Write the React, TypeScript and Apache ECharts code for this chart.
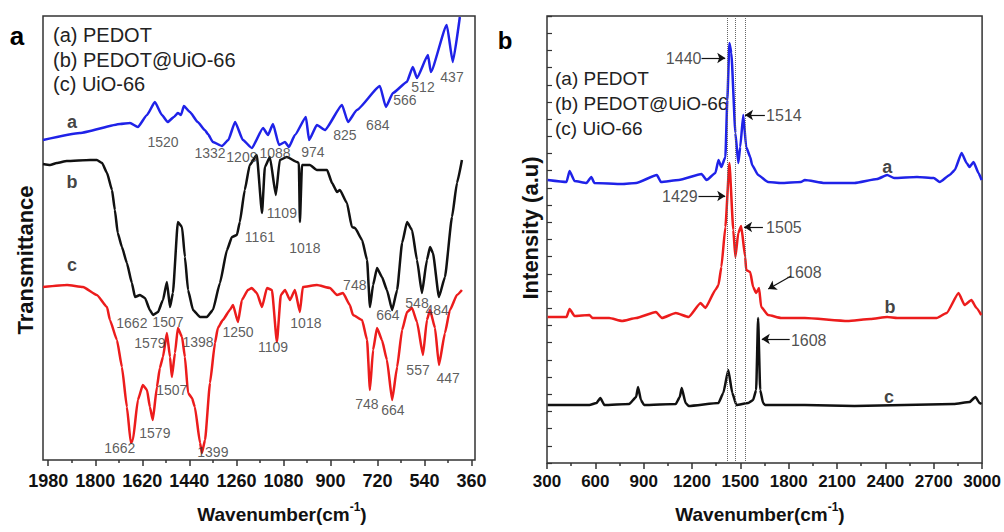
import React, { useEffect, useRef } from "react";
import * as echarts from "echarts";

const FONT = "Liberation Sans, Arial, Helvetica, sans-serif";

// ---------- Panel a : FT-IR (wavenumber cm-1, transmittance a.u. with offsets) ----------
const irPEDOT: [number, number][] = [
  [2000, 320], [1859, 327], [1705, 336], [1667, 337], [1637, 333], [1602, 345], [1572, 358],
  [1545, 345], [1523, 338], [1499, 343], [1484, 347], [1472, 345], [1461, 354], [1438, 348],
  [1408, 338], [1381, 330], [1369, 326], [1350, 318], [1315, 314], [1291, 320], [1265, 338],
  [1235, 320], [1201, 312], [1158, 332], [1139, 325], [1120, 336], [1097, 315], [1074, 318],
  [1059, 313], [1036, 325], [994, 343], [982, 320], [952, 335], [921, 330], [856, 355],
  [833, 338], [799, 350], [711, 374], [688, 353], [661, 367], [608, 378], [585, 393],
  [569, 382], [527, 405], [516, 388], [455, 435], [432, 398], [405, 443],
];

const irComposite: [number, number][] = [
  [2000, 296], [1973, 295], [1947, 297], [1909, 299], [1820, 300], [1794, 300], [1774, 297],
  [1755, 287], [1736, 270], [1725, 250], [1714, 227], [1698, 213], [1679, 197], [1660, 177],
  [1648, 163], [1629, 165], [1610, 162], [1591, 150], [1579, 145], [1560, 148], [1541, 160],
  [1526, 178], [1514, 153], [1503, 167], [1484, 238], [1468, 233], [1457, 203], [1445, 170],
  [1426, 150], [1399, 143], [1373, 143], [1350, 150], [1323, 177], [1296, 210], [1277, 223],
  [1258, 225], [1247, 238], [1228, 270], [1209, 295], [1182, 305], [1162, 247], [1151, 293],
  [1132, 303], [1109, 265], [1094, 300], [1067, 303], [1028, 298], [1021, 297], [1017, 238],
  [1009, 295], [979, 295], [952, 290], [913, 290], [894, 277], [875, 268], [864, 270],
  [837, 257], [818, 233], [806, 232], [779, 220], [760, 200], [749, 153], [737, 175],
  [722, 192], [703, 183], [684, 170], [664, 150], [645, 170], [626, 217], [607, 238],
  [588, 230], [569, 200], [550, 167], [531, 200], [519, 213], [508, 207], [485, 163],
  [462, 183], [435, 243], [416, 277], [397, 300],
];

const irUiO: [number, number][] = [
  [2000, 173], [1908, 175], [1847, 173], [1794, 165], [1755, 153], [1744, 140], [1717, 120],
  [1698, 93], [1679, 53], [1664, 17], [1656, 20], [1637, 60], [1618, 75], [1602, 70],
  [1591, 53], [1580, 40], [1564, 73], [1553, 92], [1541, 103], [1526, 127], [1514, 103],
  [1507, 83], [1495, 107], [1484, 132], [1468, 123], [1457, 103], [1445, 67], [1430, 62],
  [1419, 53], [1399, 17], [1392, 7], [1380, 20], [1361, 77], [1342, 117], [1331, 132],
  [1312, 140], [1285, 150], [1273, 155], [1254, 138], [1239, 160], [1216, 170], [1201, 172],
  [1182, 167], [1162, 153], [1143, 172], [1124, 170], [1105, 118], [1090, 165], [1074, 170],
  [1055, 160], [1036, 170], [1017, 148], [1006, 173], [952, 175], [902, 172], [875, 165],
  [852, 167], [826, 155], [814, 145], [779, 140], [760, 120], [749, 70], [737, 110],
  [722, 132], [703, 120], [684, 100], [664, 60], [645, 93], [626, 130], [607, 148],
  [588, 152], [569, 138], [546, 105], [531, 140], [519, 150], [500, 132], [485, 95],
  [462, 127], [443, 150], [416, 165], [397, 170],
];

const irMajorTicks = [1980, 1800, 1620, 1440, 1260, 1080, 900, 720, 540, 360];
const irMinorTicks = [1890, 1710, 1530, 1350, 1170, 990, 810, 630, 450];

// peak annotations for panel a: [wavenumber, level, text]
const irPeakLabels: [number, number, string][] = [
  [1541, 318, "1520"], [1361, 307, "1332"], [1239, 303, "1209"], [1112, 307, "1088"],
  [967, 308, "974"], [845, 325, "825"], [719, 335, "684"], [615, 360, "566"],
  [546, 373, "512"], [435, 383, "437"],
  [1170, 223, "1161"], [1086, 247, "1109"], [998, 212, "1018"], [807, 175, "748"],
  [680, 145, "664"], [569, 157, "548"], [492, 150, "484"], [1660, 137, "1662"],
  [1522, 138, "1507"], [1591, 117, "1579"], [1407, 118, "1398"],
  [1254, 128, "1250"], [1120, 113, "1109"], [994, 137, "1018"], [1507, 70, "1507"],
  [1572, 27, "1579"], [1706, 12, "1662"], [1350, 8, "1399"], [761, 56, "748"],
  [661, 50, "664"], [565, 90, "557"], [450, 82, "447"],
];
const irCurveTags: [number, number, string][] = [
  [1889, 338, "a"], [1889, 278, "b"], [1889, 195, "c"],
];

// ---------- Panel b : Raman (wavenumber cm-1, intensity a.u. with offsets) ----------
const ramanPEDOT: [number, number][] = [
  [304, 283], [421, 281], [440, 292], [471, 282], [545, 280], [575, 286], [594, 280],
  [766, 279], [853, 280], [982, 288], [1007, 281], [1118, 283], [1259, 289], [1290, 283],
  [1345, 290], [1364, 303], [1382, 296], [1407, 306], [1419, 363], [1432, 420], [1444, 410],
  [1469, 330], [1487, 300], [1499, 316], [1518, 348], [1536, 316], [1561, 306], [1573, 298],
  [1610, 288], [1672, 281], [1752, 280], [1875, 281], [1900, 283], [2023, 280], [2208, 280],
  [2349, 284], [2411, 288], [2454, 285], [2596, 286], [2700, 285], [2737, 281], [2799, 288],
  [2830, 293], [2873, 310], [2904, 300], [2922, 296], [2947, 301], [2978, 290], [2997, 283],
];

const ramanComposite: [number, number][] = [
  [304, 146], [421, 146], [440, 154], [471, 147], [563, 148], [582, 145], [686, 145],
  [766, 142], [853, 145], [976, 151], [1013, 145], [1099, 150], [1179, 146], [1253, 160],
  [1283, 155], [1345, 173], [1364, 178], [1382, 196], [1407, 236], [1432, 300], [1456, 233],
  [1469, 206], [1487, 230], [1505, 237], [1530, 206], [1536, 193], [1561, 191], [1579, 176],
  [1598, 170], [1616, 175], [1629, 156], [1672, 148], [1752, 145], [1900, 145], [2165, 142],
  [2307, 144], [2411, 146], [2473, 145], [2718, 145], [2780, 150], [2854, 170], [2891, 158],
  [2934, 163], [2965, 155], [2995, 148],
];

const ramanUiO: [number, number][] = [
  [304, 58], [563, 58], [607, 60], [631, 65], [656, 58], [810, 59], [853, 66], [865, 76],
  [883, 63], [902, 58], [1099, 59], [1124, 66], [1136, 75], [1160, 60], [1179, 57],
  [1364, 60], [1394, 70], [1425, 93], [1450, 70], [1475, 58], [1549, 60], [1579, 63],
  [1598, 73], [1610, 145], [1623, 73], [1641, 60], [1653, 58], [1900, 58], [2208, 57],
  [2516, 58], [2824, 59], [2922, 61], [2959, 66], [2984, 60], [2997, 59],
];

const ramanGuides = [1420, 1471, 1530];

// [text position wn, level, text, arrow start wn, level, arrow end wn, level]
const ramanArrows: [number, number, string, number, number, number, number][] = [
  [1148, 405, "1440", 1259, 405, 1406, 405],
  [1770, 348, "1514", 1652, 348, 1529, 348],
  [1124, 267, "1429", 1240, 267, 1406, 267],
  [1770, 236, "1505", 1640, 236, 1523, 236],
  [1894, 191, "1608", 1815, 187, 1673, 174],
  [1924, 123, "1608", 1806, 124, 1633, 124],
];
const ramanCurveTags: [number, number, string][] = [
  [2411, 296, "a"], [2429, 156, "b"], [2423, 66, "c"],
];

const legendLines = ["(a) PEDOT", "(b) PEDOT@UiO-66", "(c) UiO-66"];

const BLUE = "#1f22e8";
const RED = "#ec1c1c";
const BLACK = "#111111";

export default function App() {
  const ref = useRef<HTMLDivElement>(null);

  useEffect(() => {
    if (!ref.current) return;
    const chart = echarts.init(ref.current, undefined, { renderer: "svg" });

    const lineSeries = (data: [number, number][], color: string, xi: number, yi: number, name: string) => ({
      type: "line",
      name,
      data,
      xAxisIndex: xi,
      yAxisIndex: yi,
      showSymbol: false,
      symbol: "none",
      smooth: 0.15,
      smoothMonotone: "x",
      lineStyle: { color, width: 2.5 },
      itemStyle: { color },
      z: 3,
      silent: true,
    });

    const labelSeries = (items: [number, number, string][], xi: number, yi: number, size: number, bold: boolean, color: string) => ({
      type: "scatter",
      xAxisIndex: xi,
      yAxisIndex: yi,
      symbolSize: 1,
      itemStyle: { color: "rgba(0,0,0,0)" },
      silent: true,
      z: 5,
      data: items.map((d) => ({ value: [d[0], d[1]], name: d[2] })),
      label: {
        show: true,
        position: "inside",
        formatter: "{b}",
        fontFamily: FONT,
        fontSize: size,
        fontWeight: bold ? "bold" : "normal",
        color,
      },
    });

    const tickLabel = (size: number) => ({
      fontFamily: FONT,
      fontSize: size,
      fontWeight: "bold",
      color: "#111",
    });

    const titleRich = {
      t: { fontFamily: FONT, fontSize: 19, fontWeight: "bold", fill: "#111", verticalAlign: "middle", lineHeight: 26 },
      s: { fontFamily: FONT, fontSize: 12, fontWeight: "bold", fill: "#111", verticalAlign: "top", lineHeight: 26 },
    };

    const graphics: any[] = [
      { type: "text", x: 17, y: 36, style: { text: "a", font: `bold 26px ${FONT}`, fill: "#000", align: "center", verticalAlign: "middle" } },
      { type: "text", x: 505, y: 40, style: { text: "b", font: `bold 24px ${FONT}`, fill: "#000", align: "center", verticalAlign: "middle" } },
      { type: "text", x: 25, y: 260, rotation: Math.PI / 2, style: { text: "Transmittance", font: `bold 22px ${FONT}`, fill: "#111", align: "center", verticalAlign: "middle" } },
      { type: "text", x: 530, y: 228, rotation: Math.PI / 2, style: { text: "Intensity (a.u)", font: `bold 22px ${FONT}`, fill: "#111", align: "center", verticalAlign: "middle" } },
      { type: "text", x: 282, y: 514, style: { text: "{t|Wavenumber(cm}{s|-1}{t|)}", rich: titleRich, align: "center", verticalAlign: "middle" } },
      { type: "text", x: 760, y: 514, style: { text: "{t|Wavenumber(cm}{s|-1}{t|)}", rich: titleRich, align: "center", verticalAlign: "middle" } },
    ];
    legendLines.forEach((t, i) => {
      graphics.push({ type: "text", x: 53, y: 35 + i * 24.5, style: { text: t, font: `20px ${FONT}`, fill: "#222", align: "left", verticalAlign: "middle" } });
      graphics.push({ type: "text", x: 555, y: 78 + i * 25, style: { text: t, font: `19px ${FONT}`, fill: "#222", align: "left", verticalAlign: "middle" } });
    });

    const option: any = {
      animation: false,
      backgroundColor: "#ffffff",
      grid: [
        { left: 43, top: 16, width: 432, height: 444, show: true, borderColor: "#333", borderWidth: 1.5, backgroundColor: "transparent" },
        { left: 547, top: 16, width: 439, height: 447, show: true, borderColor: "#333", borderWidth: 1.5, backgroundColor: "transparent" },
      ],
      xAxis: [
        {
          type: "value", gridIndex: 0, position: "bottom", inverse: true, min: 347, max: 2000,
          splitLine: { show: false }, axisLine: { show: false },
          axisTick: { show: true, customValues: irMajorTicks, length: 6, lineStyle: { color: "#333", width: 1.5 } },
          axisLabel: { show: true, customValues: irMajorTicks, margin: 12, formatter: (v: number) => String(v), ...tickLabel(18) },
        },
        {
          type: "value", gridIndex: 0, position: "bottom", inverse: true, min: 347, max: 2000,
          splitLine: { show: false }, axisLine: { show: false },
          axisTick: { show: true, customValues: irMinorTicks, length: 3, lineStyle: { color: "#333", width: 1.5 } },
          axisLabel: { show: false },
        },
        {
          type: "value", gridIndex: 1, position: "bottom", min: 300, max: 3000, interval: 300,
          splitLine: { show: false }, axisLine: { show: false },
          axisTick: { show: true, length: 6, lineStyle: { color: "#333", width: 1.5 } },
          minorTick: { show: true, splitNumber: 2, length: 3, lineStyle: { color: "#333", width: 1.5 } },
          axisLabel: { show: true, margin: 10, formatter: (v: number) => String(v), ...tickLabel(17) },
        },
      ],
      yAxis: [
        { type: "value", gridIndex: 0, min: 0, max: 444, show: false, splitLine: { show: false } },
        {
          type: "value", gridIndex: 1, min: 0, max: 447, interval: 447 / 26,
          splitLine: { show: false }, axisLine: { show: false },
          axisTick: { show: true, inside: true, length: 5, lineStyle: { color: "#333", width: 1.2 } },
          axisLabel: { show: false },
        },
      ],
      graphic: graphics,
      series: [
        lineSeries(irPEDOT, BLUE, 0, 0, "PEDOT"),
        lineSeries(irComposite, BLACK, 0, 0, "PEDOT@UiO-66"),
        lineSeries(irUiO, RED, 0, 0, "UiO-66"),
        labelSeries(irPeakLabels, 0, 0, 14, false, "#333"),
        labelSeries(irCurveTags, 0, 0, 18, true, "#111"),
        {
          ...lineSeries(ramanUiO, BLACK, 2, 1, "UiO-66 Raman"),
          markLine: {
            silent: true,
            symbol: ["none", "none"],
            label: { show: false },
            lineStyle: { color: "#666", type: "dotted", width: 1 },
            data: ramanGuides.map((g) => ({ xAxis: g })),
          },
        },
        lineSeries(ramanComposite, RED, 2, 1, "PEDOT@UiO-66 Raman"),
        lineSeries(ramanPEDOT, BLUE, 2, 1, "PEDOT Raman"),
        {
          ...labelSeries(ramanArrows.map((a) => [a[0], a[1], a[2]] as [number, number, string]), 2, 1, 16, false, "#222"),
          markLine: {
            silent: true,
            symbol: ["none", "arrow"],
            symbolSize: 8,
            label: { show: false },
            lineStyle: { color: "#111", type: "solid", width: 1.2 },
            data: ramanArrows.map((a) => [{ coord: [a[3], a[4]] }, { coord: [a[5], a[6]] }]),
          },
        },
        labelSeries(ramanCurveTags, 2, 1, 18, true, "#111"),
      ],
    };

    chart.setOption(option);
    return () => chart.dispose();
  }, []);

  return (
    <div
      ref={ref}
      style={{ position: "fixed", left: 0, top: 0, width: 1004, height: 532, background: "#fff" }}
    />
  );
}
